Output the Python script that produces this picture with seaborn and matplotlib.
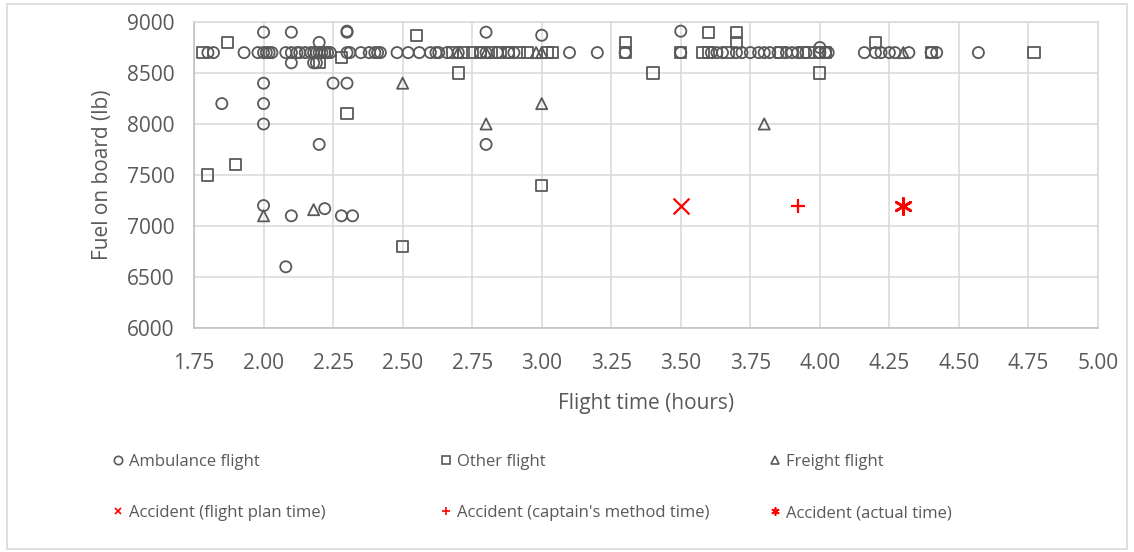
import matplotlib
matplotlib.use("Agg")
import matplotlib.pyplot as plt
import seaborn as sns
from matplotlib.patches import Rectangle
from matplotlib.lines import Line2D

# Ambulance flights (circles)
amb_t = [1.80, 1.82, 1.93, 1.98, 2.00, 2.01, 2.02, 2.03, 2.08, 2.10, 2.12, 2.13, 2.15, 2.17,
         2.18, 2.19, 2.20, 2.21, 2.22, 2.23, 2.24, 2.30, 2.31, 2.35, 2.38, 2.40, 2.41, 2.42,
         2.48, 2.52, 2.56, 2.60, 2.62, 2.63, 2.66, 2.70, 2.78, 2.80, 2.84, 2.88, 2.90, 3.10,
         3.20, 3.30, 3.50, 3.61, 3.63, 3.65, 3.70, 3.72, 3.75, 3.78, 3.80, 3.82, 3.85, 3.88,
         3.90, 3.92, 3.95, 4.00, 4.02, 4.03, 4.16, 4.20, 4.22, 4.25, 4.27, 4.32, 4.40, 4.42, 4.57,
         2.00, 2.10, 2.30, 2.30, 2.80, 3.00, 3.50, 2.20, 2.10, 2.18, 2.19, 2.00, 2.25, 2.30,
         1.85, 2.00, 2.00, 2.20, 2.80, 2.00, 2.10, 2.22, 2.28, 2.32, 2.08, 4.00]
amb_fuel = [8700] * 71 + [8900, 8900, 8900, 8910, 8900, 8870, 8910, 8800, 8600, 8600, 8600,
                          8400, 8400, 8400, 8200, 8200, 8000, 7800, 7800, 7200, 7100, 7170,
                          7100, 7100, 6600, 8750]

# Other flights (squares)
other_t = [1.78, 2.22, 2.68, 2.72, 2.75, 2.78, 2.82, 2.85, 2.88, 2.92, 2.95, 3.02, 3.04, 3.30,
           3.50, 3.58, 3.60, 3.67, 3.86, 3.94, 3.96, 4.00, 4.02, 4.40, 4.77,
           1.87, 2.55, 3.30, 3.60, 3.70, 3.70, 4.20, 2.28, 2.20, 2.70, 3.40, 4.00, 2.30, 1.90,
           1.80, 3.00, 2.50]
other_fuel = [8700] * 25 + [8800, 8870, 8800, 8900, 8900, 8800, 8800, 8650, 8600, 8500, 8500,
                            8500, 8100, 7600, 7500, 7400, 6800]

# Freight flights (triangles)
freight_t = [2.70, 2.80, 2.98, 3.00, 4.30, 2.50, 3.00, 2.80, 3.80, 2.00, 2.18]
freight_fuel = [8700, 8700, 8700, 8700, 8700, 8400, 8200, 8000, 8000, 7100, 7160]

# Accident
acc_plan_t, acc_capt_t, acc_actual_t = [3.50], [3.92], [4.30]
acc_fuel = [7200]

x_ticks = [1.75, 2.00, 2.25, 2.50, 2.75, 3.00, 3.25, 3.50, 3.75, 4.00, 4.25, 4.50, 4.75, 5.00]
y_ticks = [6000, 6500, 7000, 7500, 8000, 8500, 9000]

sns.set_style("white")
plt.rcParams['font.family'] = ['Open Sans', 'DejaVu Sans']

grey = '#595959'
fig = plt.figure(figsize=(11.34, 5.52), dpi=100)
ax = fig.add_axes([194 / 1134, 1 - 328 / 552, (1098 - 194) / 1134, (328 - 22) / 552])

ms = 64
sns.scatterplot(x=amb_t, y=amb_fuel, marker='o', s=ms, facecolors='none',
                edgecolor=grey, linewidth=1.3, ax=ax, zorder=3)
sns.scatterplot(x=other_t, y=other_fuel, marker='s', s=ms, facecolors='none',
                edgecolor=grey, linewidth=1.3, ax=ax, zorder=3)
sns.scatterplot(x=freight_t, y=freight_fuel, marker='^', s=ms, facecolors='none',
                edgecolor=grey, linewidth=1.3, ax=ax, zorder=3)
sns.scatterplot(x=acc_plan_t, y=acc_fuel, marker='x', s=130, color='red', linewidth=1.6, ax=ax, zorder=4)
sns.scatterplot(x=acc_capt_t, y=acc_fuel, marker='+', s=110, color='red', linewidth=1.6, ax=ax, zorder=4)
sns.scatterplot(x=acc_actual_t, y=acc_fuel, marker=(6, 2, 0), s=140, color='red', linewidth=1.9, ax=ax, zorder=4)

ax.set_xlim(1.75, 5.00)
ax.set_ylim(6000, 9000)
ax.set_xticks(x_ticks)
ax.set_xticklabels([f"{v:.2f}" for v in x_ticks])
ax.set_yticks(y_ticks)
ax.grid(True, color='#d9d9d9', linewidth=1.1)
ax.set_axisbelow(True)
for sp in ax.spines.values():
    sp.set_color('#d9d9d9')
    sp.set_linewidth(1.1)
ax.spines['left'].set_color('#bfbfbf')
ax.spines['bottom'].set_color('#bfbfbf')
ax.tick_params(length=0, labelsize=15, labelcolor=grey)
ax.tick_params(axis='y', pad=14)
ax.tick_params(axis='x', pad=18)
ax.set_xlabel("Flight time (hours)", fontsize=15, color=grey, labelpad=14)
ax.set_ylabel("Fuel on board (lb)", fontsize=15, color=grey, labelpad=10)


# legend, three columns of two entries
def handle(marker, color, size=6):
    return Line2D([], [], linestyle='none', marker=marker, markersize=size,
                  markerfacecolor='none', markeredgecolor=color, markeredgewidth=1.2)


cols = [
    ([handle('o', grey), handle('x', 'red', size=5)], ["Ambulance flight", "Accident (flight plan time)"], 113),
    ([handle('s', grey), handle('+', 'red', size=6)], ["Other flight", "Accident (captain's method time)"], 441),
    ([handle('^', grey), handle((6, 2, 0), 'red', size=6)], ["Freight flight", "Accident (actual time)"], 770),
]
for hs, labels, x0 in cols:
    fig.legend(hs, labels, loc='upper left', bbox_to_anchor=(x0 / 1134, 1 - 454 / 552),
               frameon=False, fontsize=12, labelcolor=grey, handlelength=0.6,
               handletextpad=0.35, labelspacing=2.1, borderpad=0, borderaxespad=0)

fig.add_artist(Rectangle((7 / 1134, 3 / 552), 1120 / 1134, 545 / 552, transform=fig.transFigure,
                         fill=False, edgecolor='#d9d9d9', linewidth=1.2))

plt.savefig("out.png", dpi=100)
